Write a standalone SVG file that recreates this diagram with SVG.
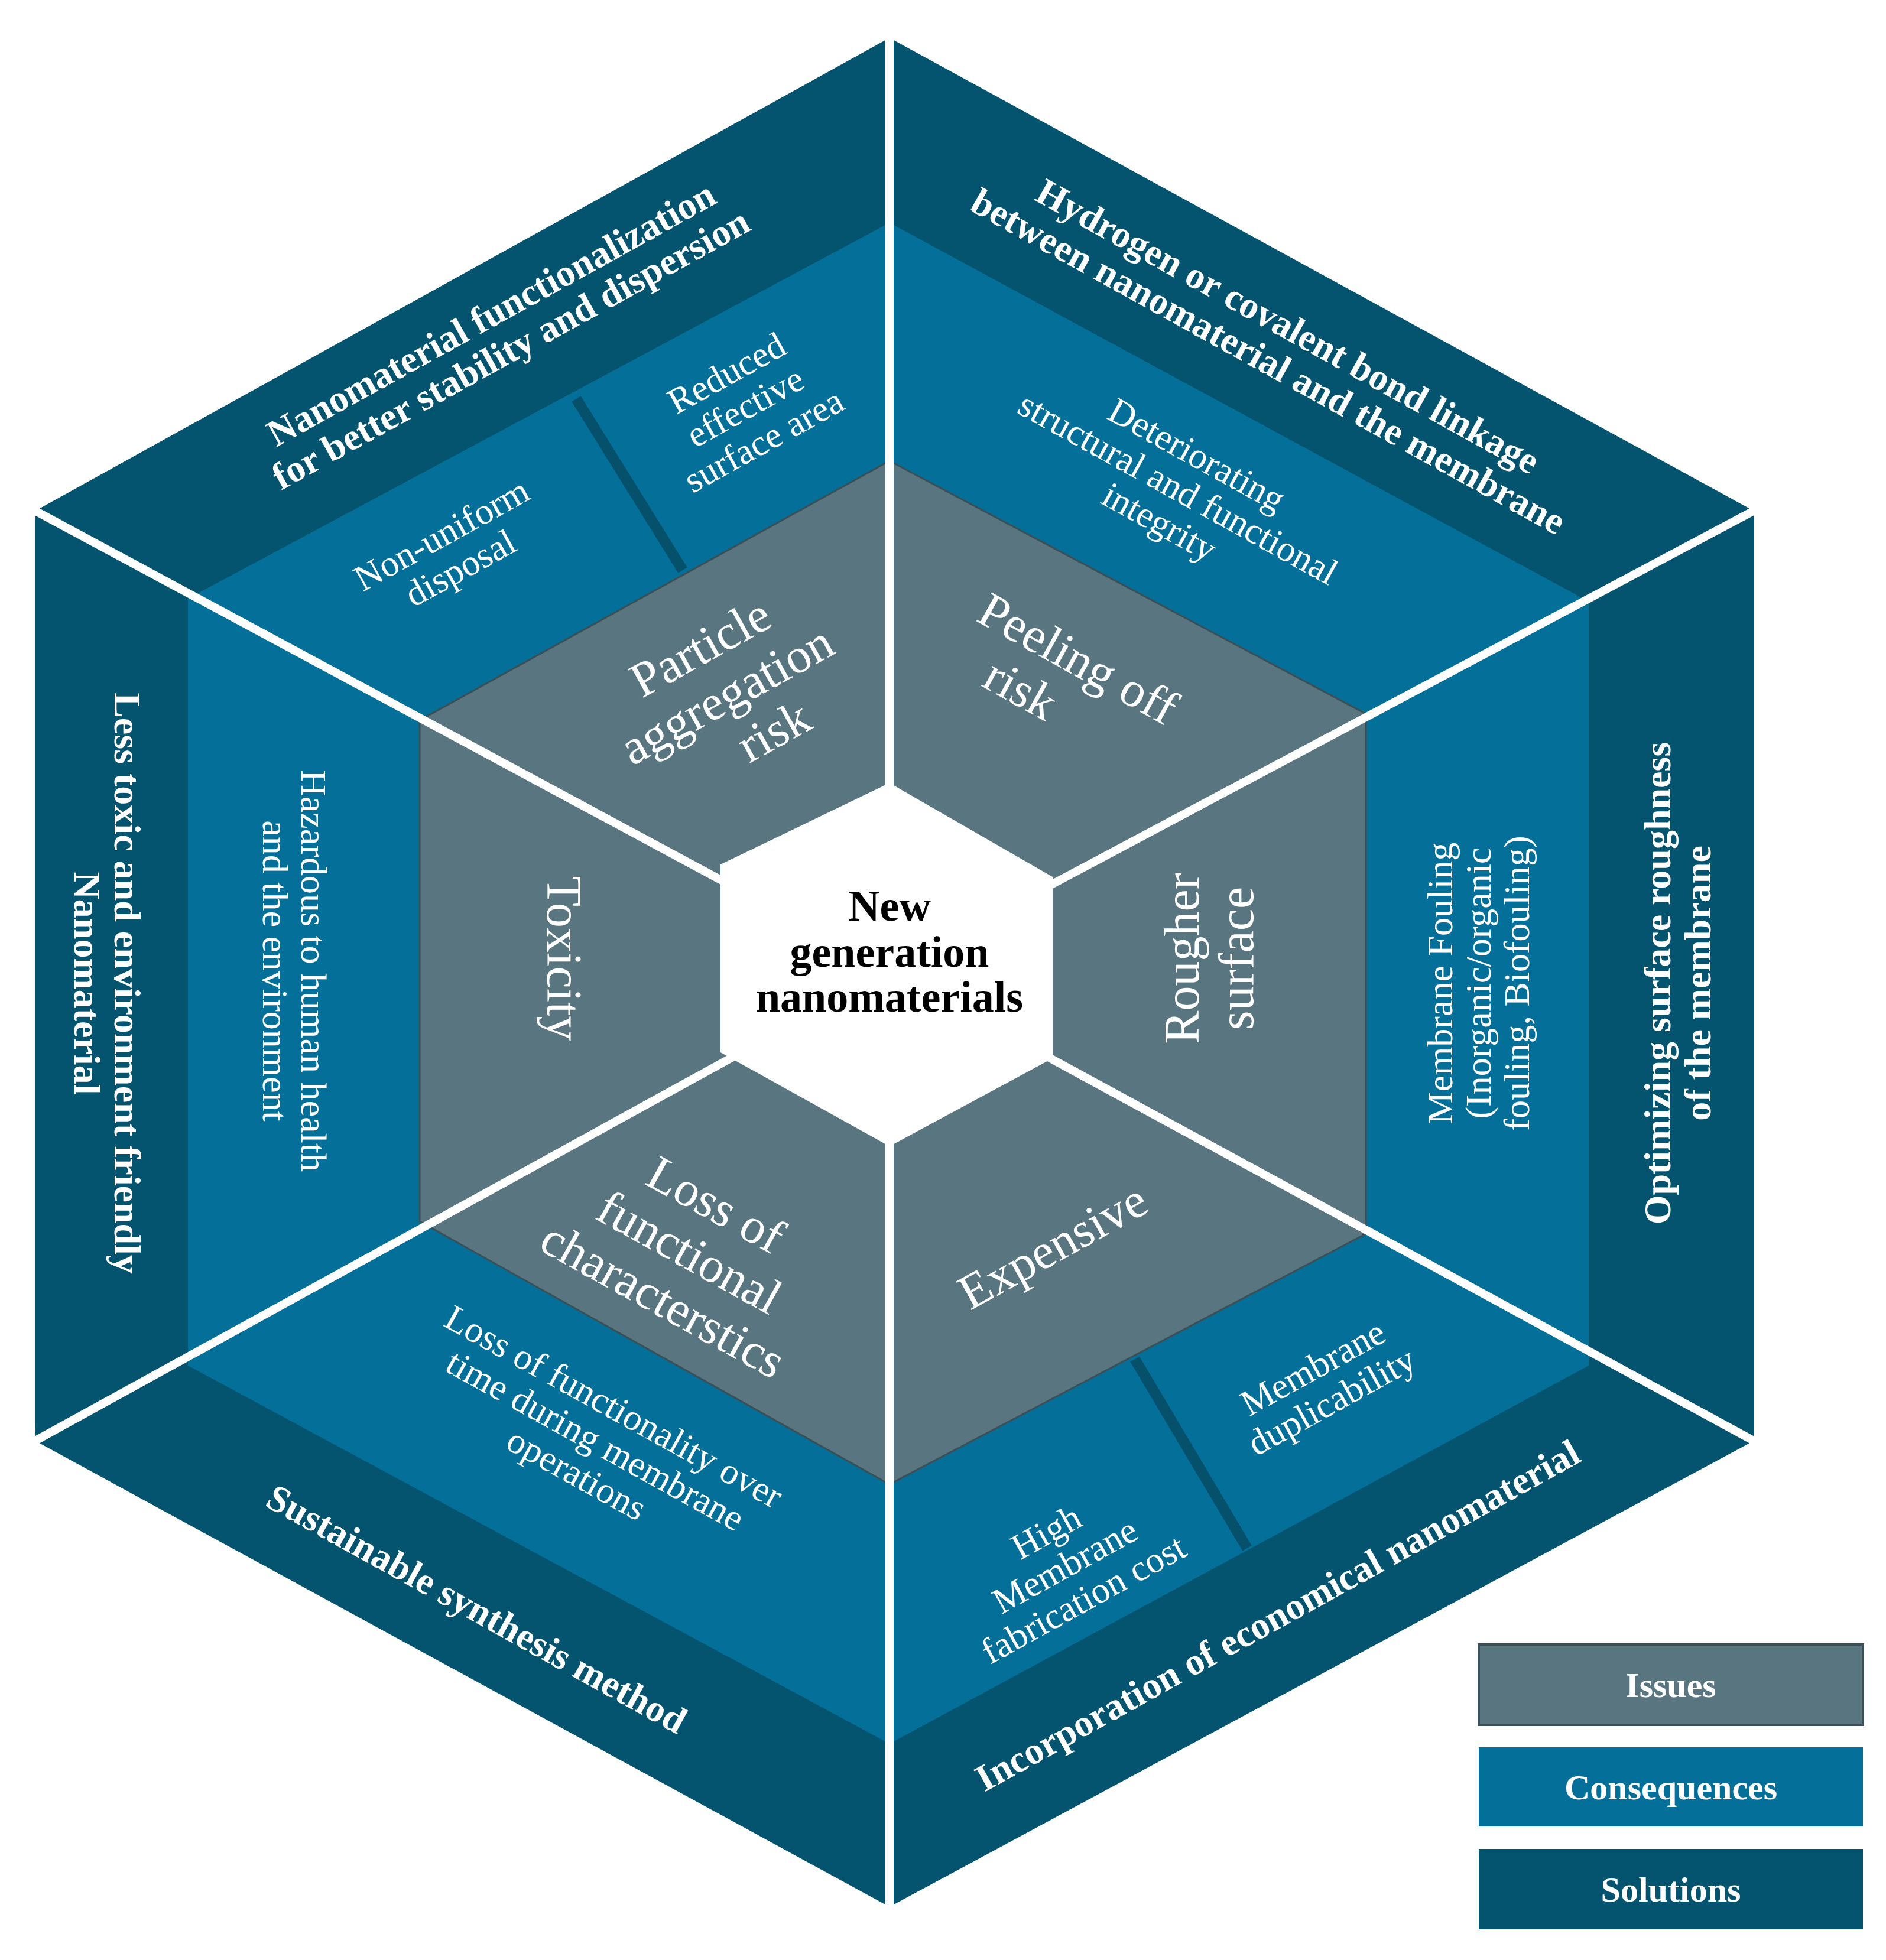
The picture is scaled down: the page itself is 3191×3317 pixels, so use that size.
<svg xmlns="http://www.w3.org/2000/svg" width="3191" height="3317" viewBox="0 0 3191 3317">
<style>
text{font-family:"Liberation Serif","Times New Roman",serif;fill:#fff;text-anchor:middle}
.sol{font-weight:bold;font-size:64px}
.con{font-size:62px}
.iss{font-size:84px}
.ctr{font-weight:bold;font-size:74px;fill:#000}
.leg{font-weight:bold;font-size:60px}
.gap{stroke:#fff;stroke-width:14}
.div{stroke:#05506b;stroke-width:18}
</style>
<rect width="3191" height="3317" fill="#fff"/>
<g id="solutions"><polygon points="1505,64 2968,865 2968,2438 1505,3227 59,2438 59,865" fill="#04546f"/></g>
<g id="consequences"><polygon points="1505,377 2688,1018 2688,2311 1505,2951 318,2311 318,1013" fill="#04709a"/></g>
<g id="issues"><polygon points="1505,780 2311,1208 2311,2088 1505,2512 710,2067 710,1219" fill="#587580" stroke="#3b4f57" stroke-width="3"/></g>
<g id="connectors">
<line class="div" x1="975" y1="675" x2="1155" y2="965"/>
<line class="div" x1="1920" y1="2300" x2="2110" y2="2620"/>
<line class="gap" x1="1505" y1="1643" x2="1505" y2="55"/>
<line class="gap" x1="1505" y1="1643" x2="1505" y2="3240"/>
<line class="gap" x1="1505" y1="1643" x2="2985" y2="855"/>
<line class="gap" x1="1505" y1="1643" x2="2985" y2="2448"/>
<line class="gap" x1="1505" y1="1643" x2="42" y2="855"/>
<line class="gap" x1="1505" y1="1643" x2="42" y2="2448"/>
</g>
<g id="center"><polygon points="1505,1325 1781,1484 1781,1791 1505,1940 1219,1781 1219,1463" fill="#fff"/>
<text class="ctr"><tspan x="1505" y="1558">New</tspan><tspan x="1505" y="1636">generation</tspan><tspan x="1505" y="1712">nanomaterials</tspan></text></g>
<g id="sol-tl"><text class="sol" transform="translate(848,562) rotate(-29)"><tspan x="0" y="-14">Nanomaterial functionalization</tspan><tspan x="0" y="54">for better stability and dispersion</tspan></text></g>
<g id="sol-tr"><text class="sol" transform="translate(2162,583) rotate(29)"><tspan x="0" y="-14">Hydrogen or covalent bond linkage</tspan><tspan x="0" y="54">between nanomaterial and the membrane</tspan></text></g>
<g id="sol-r"><text class="sol" transform="translate(2840,1664) rotate(-90)"><tspan x="0" y="-14">Optimizing surface roughness</tspan><tspan x="0" y="54">of the membrane</tspan></text></g>
<g id="sol-br"><text class="sol" transform="translate(2162,2735) rotate(-29)"><tspan x="0" y="20">Incorporation of economical nanomaterial</tspan></text></g>
<g id="sol-bl"><text class="sol" transform="translate(806,2724) rotate(29)"><tspan x="0" y="20">Sustainable synthesis method</tspan></text></g>
<g id="sol-l"><text class="sol" transform="translate(180,1664) rotate(90)"><tspan x="0" y="-14">Less toxic and environment friendly</tspan><tspan x="0" y="54">Nanomaterial</tspan></text></g>
<g id="con-tl1"><text class="con" transform="translate(1261,689) rotate(-29)"><tspan x="0" y="-45">Reduced</tspan><tspan x="0" y="20">effective</tspan><tspan x="0" y="85">surface area</tspan></text></g>
<g id="con-tl2"><text class="con" transform="translate(763,933) rotate(-29)"><tspan x="0" y="-12">Non-uniform</tspan><tspan x="0" y="53">disposal</tspan></text></g>
<g id="con-tr"><text class="con" transform="translate(1993,827) rotate(29)"><tspan x="0" y="-45">Deteriorating</tspan><tspan x="0" y="20">structural and functional</tspan><tspan x="0" y="85">integrity</tspan></text></g>
<g id="con-r"><text class="con" transform="translate(2502,1664) rotate(-90)"><tspan x="0" y="-45">Membrane Fouling</tspan><tspan x="0" y="20">(Inorganic/organic</tspan><tspan x="0" y="85">fouling, Biofouling)</tspan></text></g>
<g id="con-br1"><text class="con" transform="translate(2237,2343) rotate(-29)"><tspan x="0" y="-12">Membrane</tspan><tspan x="0" y="53">duplicability</tspan></text></g>
<g id="con-br2"><text class="con" transform="translate(1802,2650) rotate(-29)"><tspan x="0" y="-45">High</tspan><tspan x="0" y="20">Membrane</tspan><tspan x="0" y="85">fabrication cost</tspan></text></g>
<g id="con-bl"><text class="con" transform="translate(1007,2438) rotate(29)"><tspan x="0" y="-45">Loss of functionality over</tspan><tspan x="0" y="20">time during membrane</tspan><tspan x="0" y="85">operations</tspan></text></g>
<g id="con-l"><text class="con" transform="translate(498,1643) rotate(90)"><tspan x="0" y="-12">Hazardous to human health</tspan><tspan x="0" y="53">and the environment</tspan></text></g>
<g id="iss-tl"><text class="iss" transform="translate(1230,1177) rotate(-29)"><tspan x="0" y="-65">Particle</tspan><tspan x="0" y="27">aggregation</tspan><tspan x="40" y="119">risk</tspan></text></g>
<g id="iss-tr"><text class="iss" transform="translate(1802,1155) rotate(29)"><tspan x="0" y="-18">Peeling off</tspan><tspan x="-60" y="74">risk</tspan></text></g>
<g id="iss-r"><text class="iss" transform="translate(2046,1622) rotate(-90)"><tspan x="0" y="-18">Rougher</tspan><tspan x="0" y="74">surface</tspan></text></g>
<g id="iss-br"><text class="iss" transform="translate(1781,2109) rotate(-29)"><tspan x="0" y="28">Expensive</tspan></text></g>
<g id="iss-bl"><text class="iss" transform="translate(1166,2120) rotate(29)"><tspan x="0" y="-65">Loss of</tspan><tspan x="0" y="27">functional</tspan><tspan x="0" y="119">characterstics</tspan></text></g>
<g id="iss-l"><text class="iss" transform="translate(954,1622) rotate(90)"><tspan x="0" y="28">Toxicity</tspan></text></g>
<g id="legend">
<rect x="2502" y="2783" width="650" height="136" fill="#587580" stroke="#3b4f57" stroke-width="4"/>
<text class="leg" x="2827" y="2872">Issues</text>
<rect x="2502" y="2957" width="650" height="134" fill="#04709a"/>
<text class="leg" x="2827" y="3045">Consequences</text>
<rect x="2502" y="3129" width="650" height="136" fill="#04546f"/>
<text class="leg" x="2827" y="3218">Solutions</text>
</g>
</svg>
